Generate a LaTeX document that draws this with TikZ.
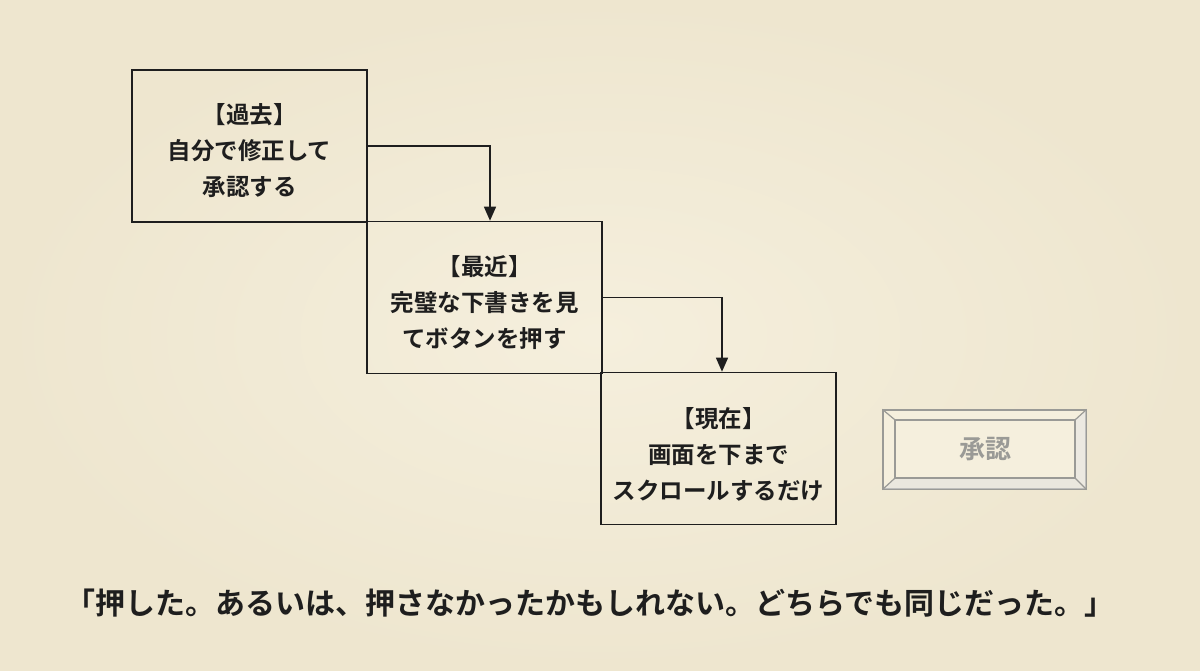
\documentclass[tikz,border=0pt]{standalone}
\usepackage{fontspec}
\newfontfamily\jpfont{Noto Sans CJK JP}[BoldFont={* Bold}]
\usetikzlibrary{arrows.meta,calc}
\definecolor{paper}{HTML}{F5EFDD}
\definecolor{paperedge}{HTML}{EEE6CF}
\definecolor{ink}{HTML}{1E1E1E}
\definecolor{btn}{HTML}{9A9A96}
\tikzset{
  stagebox/.style={draw=ink, line width=1.6pt, minimum width=235pt, minimum height=152pt, inner sep=0pt},
  stagetext/.style={align=center, text=ink, inner sep=0pt, font=\jpfont\bfseries\fontsize{23.5}{36}\selectfont},
  flow/.style={draw=ink, line width=1.4pt, -{Triangle[width=12pt,length=14pt]}},
  btnline/.style={draw=btn, line width=1.2pt},
}
\begin{document}
\begin{tikzpicture}[x=1pt,y=-1pt]
\path[inner color=paper, outer color=paperedge] (0,0) rectangle (1200,670);
\useasboundingbox (0,0) rectangle (1200,670);
\node[stagebox] (b1) at (249.5,146) {};
\node[stagebox] (b2) at (484.5,297.5) {};
\node[stagebox] (b3) at (718.5,448.5) {};
\node[stagetext] (t1) at ([yshift=-5pt]b1.center) {【過去】\\自分で修正して\\承認する};
\node[stagetext] (t2) at ([yshift=-5pt]b2.center) {【最近】\\完璧な下書きを見\\てボタンを押す};
\node[stagetext] (t3) at ([yshift=-6pt]b3.center) {【現在】\\画面を下まで\\スクロールするだけ};
\draw[flow] (b1.east) -| ([xshift=5.5pt]b2.north);
\draw[flow] (b2.east) -| ([xshift=3.5pt]b3.north);
% button
\node[btnline, fill=paper, minimum width=203pt, minimum height=79pt, inner sep=0pt] (bo) at (984.5,449.5) {};
\node[btnline, minimum width=180pt, minimum height=58pt, inner sep=0pt, text=btn, font=\jpfont\bfseries\fontsize{26}{30}\selectfont] (bi) at (985,449) {承認};
\fill[black!12, opacity=0.5] (bo.south west) -- (bo.south east) -- (bi.south east) -- (bi.south west) -- cycle;
\fill[black!10, opacity=0.5] (bo.north east) -- (bo.south east) -- (bi.south east) -- (bi.north east) -- cycle;
\draw[btnline] (bo.north west) -- (bi.north west);
\draw[btnline] (bo.north east) -- (bi.north east);
\draw[btnline] (bo.south west) -- (bi.south west);
\draw[btnline] (bo.south east) -- (bi.south east);
\draw[btnline] (bo.north west) rectangle (bo.south east);
\draw[btnline] (bi.north west) rectangle (bi.south east);
% caption
\node[text=ink, font=\jpfont\bfseries\fontsize{30}{34}\selectfont, inner sep=0pt] (cap) at (590,603) {「押した。あるいは、押さなかったかもしれない。どちらでも同じだった。」};
\end{tikzpicture}
\end{document}
